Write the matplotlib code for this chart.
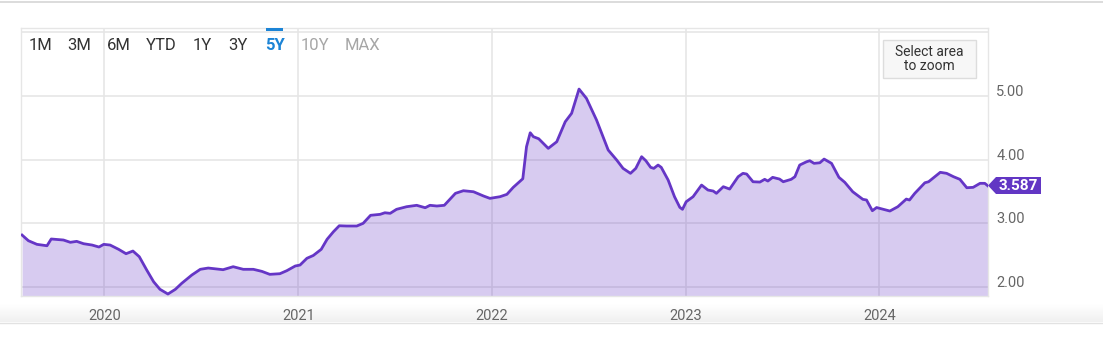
import matplotlib
matplotlib.use('Agg')
from matplotlib import pyplot as plt
from matplotlib.patches import Rectangle, Polygon
import numpy as np
import pandas as pd

plt.rcParams['font.family'] = ['Roboto', 'DejaVu Sans']

dates = [
    '2019-07-30', '2019-08-11', '2019-08-27', '2019-09-15', '2019-09-23', '2019-10-16',
    '2019-10-29', '2019-11-10', '2019-11-23', '2019-12-09', '2019-12-22', '2019-12-31',
    '2020-01-12', '2020-01-28', '2020-02-11', '2020-02-24', '2020-03-07', '2020-03-21',
    '2020-04-03', '2020-04-15', '2020-04-30', '2020-05-14', '2020-05-26', '2020-06-14',
    '2020-06-30', '2020-07-15', '2020-08-12', '2020-08-31', '2020-09-19', '2020-10-08',
    '2020-10-24', '2020-11-08', '2020-11-27', '2020-12-10', '2020-12-26', '2021-01-04',
    '2021-01-17', '2021-01-29', '2021-02-13', '2021-02-24', '2021-03-08', '2021-03-19',
    '2021-04-02', '2021-04-21', '2021-05-03', '2021-05-17', '2021-06-04', '2021-06-13',
    '2021-06-23', '2021-07-05', '2021-07-24', '2021-08-12', '2021-08-28', '2021-09-06',
    '2021-09-19', '2021-10-03', '2021-10-24', '2021-11-08', '2021-11-27', '2021-12-16',
    '2021-12-28', '2022-01-16', '2022-01-29', '2022-02-10', '2022-02-28', '2022-03-07',
    '2022-03-14', '2022-03-20', '2022-03-30', '2022-04-17', '2022-05-03', '2022-05-19',
    '2022-05-31', '2022-06-14', '2022-06-28', '2022-07-17', '2022-08-08', '2022-08-24',
    '2022-09-05', '2022-09-19', '2022-09-29', '2022-10-10', '2022-10-18', '2022-10-27',
    '2022-11-02', '2022-11-10', '2022-11-16', '2022-11-29', '2022-12-11', '2022-12-21',
    '2022-12-26', '2023-01-02', '2023-01-15', '2023-01-31', '2023-02-12', '2023-02-22',
    '2023-02-28', '2023-03-13', '2023-03-25', '2023-04-10', '2023-04-19', '2023-04-26',
    '2023-05-08', '2023-05-21', '2023-05-30', '2023-06-05', '2023-06-14', '2023-06-27',
    '2023-07-04', '2023-07-19', '2023-07-26', '2023-08-04', '2023-08-17', '2023-08-23',
    '2023-08-31', '2023-09-11', '2023-09-19', '2023-10-03', '2023-10-17', '2023-10-28',
    '2023-11-12', '2023-12-01', '2023-12-08', '2023-12-19', '2023-12-27', '2024-01-21',
    '2024-02-05', '2024-02-21', '2024-02-27', '2024-03-08', '2024-03-27', '2024-04-03',
    '2024-04-25', '2024-05-07', '2024-05-20', '2024-06-01', '2024-06-14', '2024-06-26',
    '2024-07-09', '2024-07-18', '2024-07-24',
]
values = [
    2.816, 2.727, 2.670, 2.648, 2.754, 2.738, 2.702, 2.717, 2.680, 2.659, 2.628, 2.670,
    2.659, 2.592, 2.523, 2.565, 2.476, 2.267, 2.083, 1.964, 1.890, 1.964, 2.058, 2.188,
    2.278, 2.298, 2.272, 2.319, 2.278, 2.278, 2.246, 2.199, 2.209, 2.256, 2.330, 2.345,
    2.451, 2.495, 2.592, 2.749, 2.868, 2.962, 2.958, 2.958, 3.000, 3.126, 3.141, 3.166,
    3.157, 3.220, 3.261, 3.283, 3.245, 3.283, 3.272, 3.283, 3.471, 3.512, 3.496, 3.429,
    3.392, 3.418, 3.455, 3.565, 3.700, 4.203, 4.422, 4.360, 4.328, 4.177, 4.281, 4.595,
    4.727, 5.108, 4.962, 4.622, 4.151, 3.994, 3.863, 3.785, 3.863, 4.046, 3.983, 3.879,
    3.863, 3.915, 3.879, 3.680, 3.418, 3.251, 3.220, 3.339, 3.418, 3.601, 3.523, 3.507,
    3.471, 3.575, 3.538, 3.732, 3.785, 3.774, 3.653, 3.648, 3.691, 3.664, 3.722, 3.695,
    3.653, 3.691, 3.732, 3.915, 3.967, 3.983, 3.942, 3.951, 4.009, 3.942, 3.722, 3.644,
    3.496, 3.377, 3.366, 3.198, 3.248, 3.193, 3.261, 3.381, 3.366, 3.471, 3.637, 3.653,
    3.801, 3.785, 3.732, 3.691, 3.559, 3.565, 3.628, 3.628, 3.587,
]
y_ticks = [2, 3, 4, 5, 6]
y_labels = ['2.00', '3.00', '4.00', '5.00', '']
x_years = ['2020', '2021', '2022', '2023', '2024']
buttons = ['1M', '3M', '6M', 'YTD', '1Y', '3Y', '5Y', '10Y', 'MAX']
button_x = [40, 79, 119, 161, 202, 238, 275, 315, 362]
last_label = '3.587'

W, H = 1103, 337
line_color = '#6536c6'
grid_color = '#e6e6e6'

x = pd.to_datetime(dates)

fig = plt.figure(figsize=(W / 100, H / 100), dpi=100)
ax = fig.add_axes([21 / W, 1 - 296 / H, 967 / W, 268 / H])

ax.fill_between(x, values, 1.0, color=line_color, alpha=0.26, linewidth=0, zorder=2)
ax.plot(x, values, color=line_color, linewidth=2, zorder=3, solid_joinstyle='round')

ax.set_xlim(pd.Timestamp('2019-07-28'), pd.Timestamp('2024-07-24'))
ax.set_ylim(1.859, 6.067)

ax.set_yticks(y_ticks)
ax.set_yticklabels(y_labels)
ax.yaxis.tick_right()
ax.tick_params(axis='y', length=0, pad=6, labelsize=10.5, labelcolor='#666666')
for lab in ax.get_yticklabels():
    lab.set_verticalalignment('baseline')

ax.set_xticks(pd.to_datetime([y + '-01-01' for y in x_years]))
ax.set_xticklabels(x_years)
ax.tick_params(axis='x', length=0, pad=9, labelsize=10.5, labelcolor='#666666')

ax.grid(True, color=grid_color, linewidth=1.2, zorder=1)
ax.set_axisbelow(True)
for s in ax.spines.values():
    s.set_color(grid_color)
    s.set_linewidth(1)

# range selector buttons
def fy(py):
    return 1 - py / H

for label, bx in zip(buttons, button_x):
    if label == '5Y':
        color, weight = '#1c84d6', 'bold'
    elif label in ('10Y', 'MAX'):
        color, weight = '#a6a6a6', 'normal'
    else:
        color, weight = '#333333', 'normal'
    fig.text(bx / W, fy(45.5), label, ha='center', va='center', fontsize=12,
             color=color, fontweight=weight)
fig.patches.append(Rectangle((266 / W, fy(30.5)), 17 / W, 3 / H, transform=fig.transFigure,
                             facecolor='#1c84d6', edgecolor='none'))

# zoom hint box
fig.patches.append(Rectangle((883 / W, fy(78)), 93 / W, 38 / H, transform=fig.transFigure,
                             facecolor='#f7f7f7', edgecolor='#dddddd', linewidth=1))
fig.text(929 / W, fy(51.5), 'Select area', ha='center', va='center', fontsize=10, color='#333333')
fig.text(929 / W, fy(66.5), 'to zoom', ha='center', va='center', fontsize=10, color='#333333')

# last value tag
tag = Polygon([(988 / W, fy(185.5)), (996 / W, fy(177)), (1041 / W, fy(177)),
               (1041 / W, fy(194)), (996 / W, fy(194))], closed=True,
              transform=fig.transFigure, facecolor='#6236c4', edgecolor='none')
fig.patches.append(tag)
fig.text(1018 / W, fy(185.5), last_label, ha='center', va='center', fontsize=11,
         color='white', fontweight='bold')

# page lines
fig.add_artist(plt.Line2D([0, 1], [fy(1.5), fy(1.5)], transform=fig.transFigure,
                          color='#d6d6d6', linewidth=1.2))
grad = np.linspace(0, 1, 50).reshape(-1, 1)
bg = fig.add_axes([0, fy(322), 1, 18 / H], zorder=-1)
bg.imshow(grad, aspect='auto', cmap=matplotlib.colors.LinearSegmentedColormap.from_list(
    'g', ['#f0f0f0', '#ffffff']), extent=[0, 1, 0, 1], origin='lower')
bg.axis('off')
fig.add_artist(plt.Line2D([0, 1], [fy(323), fy(323)], transform=fig.transFigure,
                          color='#e2e2e2', linewidth=1))

fig.savefig('out.png', dpi=100)
